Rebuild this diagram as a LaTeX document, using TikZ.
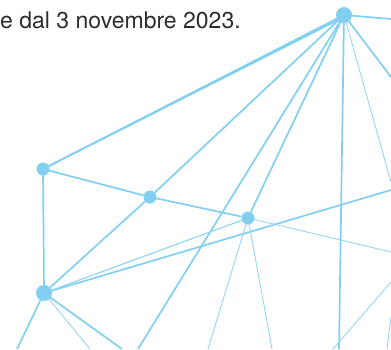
\documentclass[tikz,border=0pt]{standalone}
\usepackage{fontspec}
\setmainfont{TeX Gyre Heros}
\usepackage{xcolor}
\usepackage{tikz}
\usetikzlibrary{positioning,calc,backgrounds}
\definecolor{netblue}{RGB}{130,207,242}
\definecolor{textgray}{RGB}{45,45,45}

\begin{document}
\begin{tikzpicture}[x=1pt, y=-1pt,
    dot/.style={circle, fill=netblue, inner sep=0pt, minimum size=13pt},
    bigdot/.style={dot, minimum size=16pt},
    link/.style={draw=netblue, line width=1.7pt},
    thin link/.style={draw=netblue!85, line width=0.9pt}]
                                \useasboundingbox (0,0) rectangle (391,349);

                                \node[anchor=base west, inner sep=0pt, text=textgray, font=\fontsize{23}{27}\selectfont] (txt) at (0,28) {e dal 3 novembre 2023.};

                                \node[bigdot] (h) at (344,15) {};
                                \node[dot] (a) at (43,169) {};
                                \node[dot] (b) at (150,197) {};
                                \node[dot] (c) at (248,218) {};
                                \node[bigdot] (d) at (44,293) {};

                                % free ends at the border
                                \coordinate (r1) at (391,19);
                                \coordinate (r2) at (391,182);
                                \coordinate (r3) at (391,77);
                                \coordinate (r4) at (391,190);
                                \coordinate (r5) at (391,252);
                                \coordinate (r6) at (391,282);
                                \coordinate (r7) at (391,317);
                                \coordinate (b1) at (138,349);
                                \coordinate (b2) at (339,349);
                                \coordinate (b3) at (17,349);
                                \coordinate (b4) at (122,349);
                                \coordinate (b5) at (90,349);
                                \coordinate (b6) at (208,349);
                                \coordinate (b7) at (272,349);
                                \coordinate (b8) at (333,349);
                                \coordinate (b9) at (387,349);

                                \begin{scope}[on background layer]
                                \foreach \u/\v in {h/r1, h/a, h/b, h/b1, h/c, h/b2, h/r3, a/b, b/c, a/d, b/d, d/r4, d/b3, d/b4}
                                    \draw[link] (\u.center) -- (\v);
                                \draw[link] (a.center) -- ($(h.center)+(0,2)$);
                                \draw[link, line width=1.2pt, draw=netblue!85] (d.center) -- (c.center);

                                \foreach \u/\v in {h/r2, c/r5, d/b5, c/b6, c/b7, b8/r6, b9/r7}
                                    \draw[thin link] (\u.center) -- (\v);
                                \end{scope}
                            \end{tikzpicture}
\end{document}
